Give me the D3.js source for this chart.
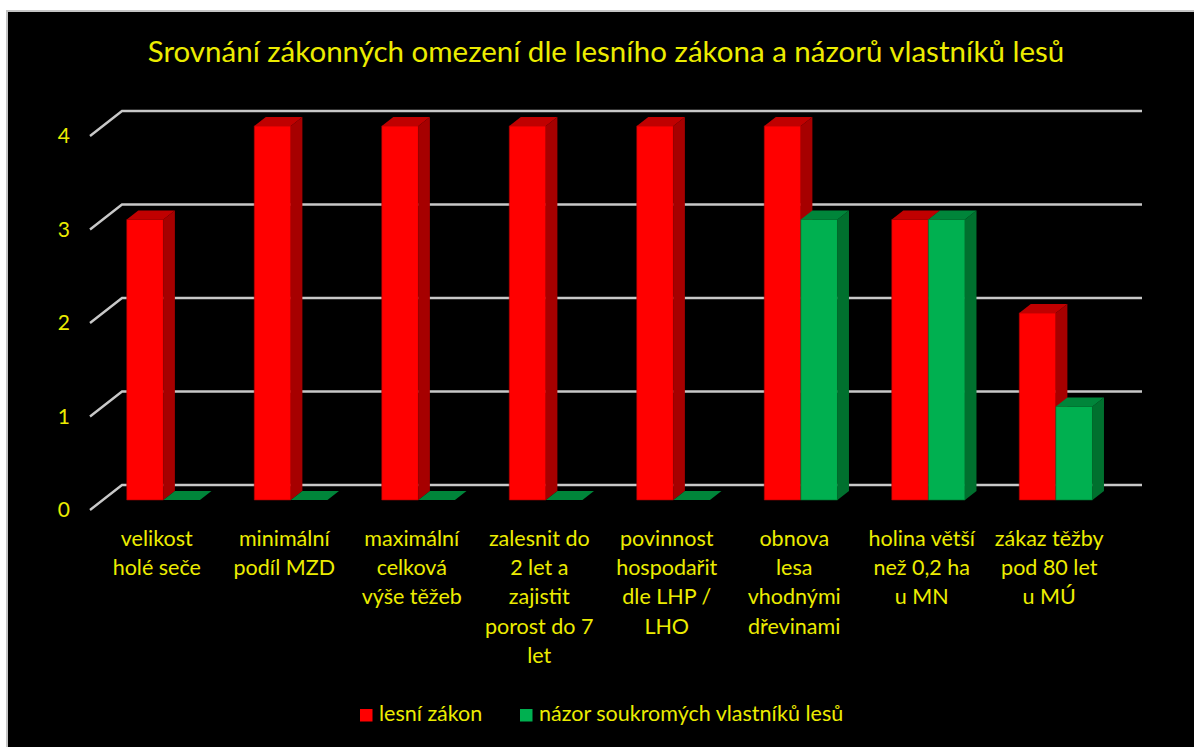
<!DOCTYPE html>
<html>
<head>
<meta charset="utf-8">
<script src="https://cdn.jsdelivr.net/npm/d3@7"></script>
<style>
  html, body { margin: 0; padding: 0; background: #fff; }
  svg { display: block; }
  text { font-family: Lato, "Open Sans", sans-serif; fill: #ecec00; }
</style>
</head>
<body>
<div id="chart"></div>
<script>
// Data
const categories = [
  "velikost holé seče",
  "minimální podíl MZD",
  "maximální celková výše těžeb",
  "zalesnit do 2 let a zajistit porost do 7 let",
  "povinnost hospodařit dle LHP / LHO",
  "obnova lesa vhodnými dřevinami",
  "holina větší než 0,2 ha u MN",
  "zákaz těžby pod 80 let u MÚ"
];
// wrapped as in the original
const categoryLines = [
  ["velikost", "holé seče"],
  ["minimální", "podíl MZD"],
  ["maximální", "celková", "výše těžeb"],
  ["zalesnit do", "2 let a", "zajistit", "porost do 7", "let"],
  ["povinnost", "hospodařit", "dle LHP /", "LHO"],
  ["obnova", "lesa", "vhodnými", "dřevinami"],
  ["holina větší", "než 0,2 ha", "u MN"],
  ["zákaz těžby", "pod 80 let", "u MÚ"]
];
const seriesNames = ["lesní zákon", "názor soukromých vlastníků lesů"];
const lesniZakon = [3, 4, 4, 4, 4, 4, 3, 2];
const nazorVlastniku = [0, 0, 0, 0, 0, 3, 3, 1];
const yTicks = [0, 1, 2, 3, 4];

const width = 1194, height = 747;

const svg = d3.select("#chart").append("svg")
  .attr("width", width)
  .attr("height", height);

// panel
svg.append("rect")
  .attr("x", 7).attr("y", 11)
  .attr("width", width).attr("height", height)
  .attr("fill", "#000")
  .attr("stroke", "#c4c4c4")
  .attr("stroke-width", 2);

// 3D projection: back wall z=0, front edge of floor z=1
const depthX = -32, depthY = 25;
const x0 = d3.scaleBand().domain(categories).range([122, 1142]);
const yScale = d3.scaleLinear().domain([0, 4]).range([485, 111]);
const P = (x, v, z) => [x + depthX * z, yScale(v) + depthY * z];

// gridlines: back wall + side diagonal
const grid = svg.append("g");
yTicks.forEach(t => {
  const a = P(x0.range()[1], t, 0), b = P(x0.range()[0], t, 0), c = P(x0.range()[0], t, 1);
  grid.append("path")
    .attr("d", d3.line()([a, b, c]))
    .attr("fill", "none")
    .attr("stroke", "#c8c8c8")
    .attr("stroke-width", 2.4);
});

// y axis labels
svg.append("g")
  .attr("transform", "translate(70," + depthY + ")")
  .call(d3.axisLeft(yScale).tickValues(yTicks).tickFormat(d3.format("d")).tickSize(0).tickPadding(0))
  .call(g => g.select(".domain").remove())
  .selectAll("text")
  .attr("fill", "#ecec00")
  .style("font-size", "21px")
  .style("font-family", "Lato, sans-serif");

// bars
const series = [
  { name: seriesNames[0], values: lesniZakon, front: "#ff0000", side: "#a60000", top: "#c00000" },
  { name: seriesNames[1], values: nazorVlastniku, front: "#00b050", side: "#00702e", top: "#00853a" }
];
const bw = x0.bandwidth();
const groupOffset = bw * 0.188, barW = bw * 0.287;
const zf = 0.6, zb = 0.24;
const poly = pts => d3.line()(pts) + "Z";

const bars = svg.append("g");
categories.forEach((cat, ci) => {
  series.forEach((s, si) => {
    const v = s.values[ci];
    const bx = x0(cat) + groupOffset + si * barW;
    const g = bars.append("g");
    if (v > 0) {
      g.append("path")
        .attr("d", poly([P(bx, 0, zf), P(bx, v, zf), P(bx + barW, v, zf), P(bx + barW, 0, zf)]))
        .attr("fill", s.front).attr("stroke", s.side).attr("stroke-width", 0.6);
      g.append("path")
        .attr("d", poly([P(bx + barW, 0, zf), P(bx + barW, v, zf), P(bx + barW, v, zb), P(bx + barW, 0, zb)]))
        .attr("fill", s.side);
    }
    g.append("path")
      .attr("d", poly([P(bx, v, zf), P(bx + barW, v, zf), P(bx + barW, v, zb), P(bx, v, zb)]))
      .attr("fill", s.top);
  });
});

// category labels
const labels = svg.append("g");
categories.forEach((cat, ci) => {
  const cx = x0(cat) + bw / 2 - 29;
  const t = labels.append("text")
    .attr("text-anchor", "middle")
    .style("font-size", "21.5px");
  categoryLines[ci].forEach((line, li) => {
    t.append("tspan").attr("x", cx).attr("y", 546 + li * 29.2).text(line);
  });
});

// title
const title = svg.append("text")
  .attr("x", 606).attr("y", 62)
  .attr("text-anchor", "middle")
  .style("font-size", "26px")
  .text("Srovnání zákonných omezení dle lesního zákona a názorů vlastníků lesů");
const tw = title.node().getComputedTextLength();
title.style("font-size", (26 * 917 / tw) + "px");

// legend
const legendX = [360, 520];
series.forEach((s, i) => {
  svg.append("rect")
    .attr("x", legendX[i]).attr("y", 709)
    .attr("width", 12.5).attr("height", 12.5)
    .attr("fill", s.front);
  svg.append("text")
    .attr("x", legendX[i] + 19).attr("y", 721)
    .style("font-size", "21.5px")
    .text(s.name);
});
</script>
</body>
</html>
